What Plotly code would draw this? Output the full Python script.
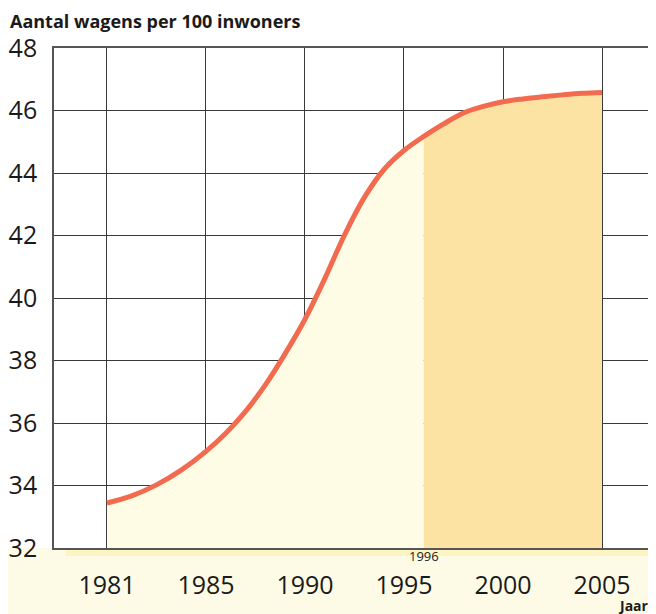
import plotly.graph_objects as go

jaren = [1981, 1982, 1983, 1984, 1985, 1986, 1987, 1988, 1989, 1990,
         1991, 1992, 1993, 1994, 1995, 1996, 1997, 1998, 1999, 2000,
         2001, 2002, 2003, 2004, 2005]
wagens = [33.44, 33.67, 34.02, 34.49, 35.09, 35.67, 36.37, 37.22, 38.22, 39.32,
          40.62, 42.02, 43.22, 44.12, 44.72, 45.17, 45.57, 45.92, 46.13, 46.28,
          46.37, 46.44, 46.5, 46.55, 46.58]
tick_jaren = [1981, 1985, 1990, 1995, 2000, 2005]
y_ticks = [32, 34, 36, 38, 40, 42, 44, 46, 48]
grens_jaar = 1996


def pos(j):
    # de as is niet lineair: 1981-1985 krijgt dezelfde breedte als 5 jaar
    if j < 1985:
        return (j - 1981) / 4
    return 1 + (j - 1985) / 5


x_all = [pos(j) for j in jaren]
i_grens = jaren.index(grens_jaar)

fig = go.Figure()

# licht gedeelte tot 1996
fig.add_trace(go.Scatter(x=x_all[:i_grens + 1], y=wagens[:i_grens + 1], mode='lines',
                         line=dict(width=0, shape='spline'), fill='tozeroy',
                         fillcolor='#FEFCE4', hoverinfo='skip', showlegend=False))
# donker gedeelte vanaf 1996
fig.add_trace(go.Scatter(x=x_all[i_grens:], y=wagens[i_grens:], mode='lines',
                         line=dict(width=0, shape='spline'), fill='tozeroy',
                         fillcolor='#FCE3A4', hoverinfo='skip', showlegend=False))
# de curve zelf
fig.add_trace(go.Scatter(x=x_all, y=wagens, mode='lines',
                         line=dict(color='#F26B4F', width=5, shape='spline'),
                         showlegend=False))

fig.update_xaxes(range=[-0.535, 5.515], tickvals=[pos(j) for j in tick_jaren],
                 ticktext=[str(j) for j in tick_jaren], showgrid=True,
                 gridcolor='#3a3a3a', gridwidth=1.4, zeroline=False,
                 showline=True, linecolor='#555555', linewidth=1.6, mirror=True,
                 ticks='', ticklabelstandoff=14, automargin=False,
                 tickfont=dict(family='Open Sans', size=25, color='#1a1a1a'))
fig.update_yaxes(range=[32, 48], tickvals=y_ticks, showgrid=True,
                 gridcolor='#3a3a3a', gridwidth=1.4, zeroline=False,
                 showline=True, linecolor='#555555', linewidth=1.6, mirror=True,
                 ticks='', ticklabelstandoff=10, automargin=False,
                 tickfont=dict(family='Open Sans', size=25, color='#1a1a1a'))

fig.add_shape(type='rect', xref='paper', yref='paper', x0=-0.2, x1=1.1, y0=0, y1=-0.2,
              fillcolor='#FDFBE6', line_width=0, layer='below')
fig.add_shape(type='rect', xref='paper', yref='paper', x0=0.02, x1=1.0, y0=0, y1=-0.016,
              fillcolor='#FCF4C2', line_width=0, layer='below')

fig.add_annotation(text='<b>Aantal wagens per 100 inwoners</b>', xref='paper', yref='paper',
                   x=0, y=1, xanchor='left', yanchor='bottom', xshift=-46, yshift=13,
                   showarrow=False, font=dict(family='Open Sans', size=18, color='#1a1a1a'))
fig.add_annotation(text=str(grens_jaar), xref='x', yref='paper', x=pos(grens_jaar), y=0,
                   xanchor='center', yanchor='top', yshift=3, showarrow=False,
                   font=dict(family='Open Sans', size=13, color='#1a1a1a'))
fig.add_annotation(text='<b>Jaar</b>', xref='paper', yref='paper', x=1, y=0,
                   xanchor='right', yanchor='top', yshift=-46, xshift=-2, showarrow=False,
                   font=dict(family='Open Sans', size=14, color='#1a1a1a'))

# de pagina heeft 8px marge, dus figuur iets kleiner
fig.update_layout(width=648, height=606, margin=dict(l=46, r=3, t=40, b=66),
                  paper_bgcolor='white', plot_bgcolor='white')

fig.write_html("out.html")
